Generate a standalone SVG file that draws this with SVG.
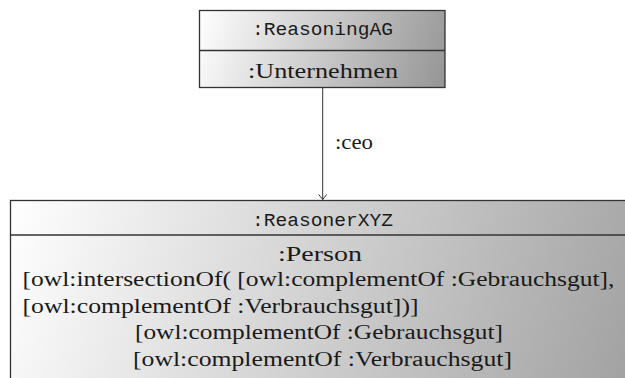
<svg xmlns="http://www.w3.org/2000/svg" width="625" height="378" viewBox="0 0 625 378">
  <defs>
    <linearGradient id="shadeTop" gradientUnits="userSpaceOnUse" x1="199" y1="10" x2="445" y2="88">
      <stop offset="0" stop-color="#ffffff"/>
      <stop offset="1" stop-color="#959595"/>
    </linearGradient>
    <linearGradient id="shadeBottom" gradientUnits="userSpaceOnUse" x1="10" y1="200" x2="625" y2="390">
      <stop offset="0" stop-color="#ffffff"/>
      <stop offset="1" stop-color="#a2a2a2"/>
    </linearGradient>
    <marker id="openArrow" markerWidth="10" markerHeight="10" refX="6" refY="5" orient="auto" markerUnits="userSpaceOnUse" viewBox="0 0 10 10">
      <path d="M1,1 L6,5 L1,9" fill="none" stroke="#333" stroke-width="1"/>
    </marker>
  </defs>
  <style>
    .box { stroke: #333; stroke-width: 1.3; }
    .sep { stroke: #333; stroke-width: 1.3; }
    .mono { font-size: 19px; fill: #1a1a1a; }
    .serif { font-size: 20px; fill: #1a1a1a; }
    .edge { stroke: #333; stroke-width: 1; fill: none; }
  </style>

  <g id="connectors">
    <line class="edge" x1="322.7" y1="88" x2="322.7" y2="199.5" marker-end="url(#openArrow)"/>
    <text class="serif" font-family="'Liberation Serif', 'Times New Roman', Times, serif" x="335" y="149" textLength="38" lengthAdjust="spacingAndGlyphs">:ceo</text>
  </g>

  <g id="node-reasoningag">
    <rect class="box" x="199.5" y="10.5" width="245.5" height="77" fill="url(#shadeTop)"/>
    <line class="sep" x1="199.5" y1="50.5" x2="445" y2="50.5"/>
    <text class="mono" font-family="'Liberation Mono', 'Courier New', monospace" x="252" y="35" textLength="141" lengthAdjust="spacingAndGlyphs">:ReasoningAG</text>
    <text class="serif" font-family="'Liberation Serif', 'Times New Roman', Times, serif" x="248" y="78" textLength="150" lengthAdjust="spacingAndGlyphs">:Unternehmen</text>
  </g>

  <g id="node-reasonerxyz" font-family="'Liberation Serif', 'Times New Roman', Times, serif">
    <rect class="box" x="10.5" y="200.5" width="640" height="200" fill="url(#shadeBottom)"/>
    <line class="sep" x1="10.5" y1="235" x2="650" y2="235"/>
    <text class="mono" font-family="'Liberation Mono', 'Courier New', monospace" x="252" y="226" textLength="141" lengthAdjust="spacingAndGlyphs">:ReasonerXYZ</text>
    <text class="serif" x="278" y="261" textLength="84" lengthAdjust="spacingAndGlyphs">:Person</text>
    <text class="serif" x="22.5" y="286" textLength="592" lengthAdjust="spacingAndGlyphs">[owl:intersectionOf( [owl:complementOf :Gebrauchsgut],</text>
    <text class="serif" x="22.5" y="313" textLength="396" lengthAdjust="spacingAndGlyphs">[owl:complementOf :Verbrauchsgut])]</text>
    <text class="serif" x="135" y="339" textLength="368" lengthAdjust="spacingAndGlyphs">[owl:complementOf :Gebrauchsgut]</text>
    <text class="serif" x="133" y="366" textLength="379" lengthAdjust="spacingAndGlyphs">[owl:complementOf :Verbrauchsgut]</text>
  </g>
</svg>
